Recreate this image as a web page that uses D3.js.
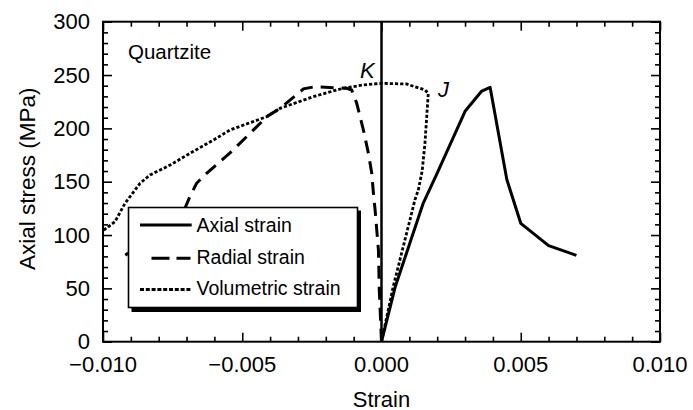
<!DOCTYPE html>
<html><head><meta charset="utf-8">
<script src="https://cdn.jsdelivr.net/npm/d3@7"></script>
<style>body{margin:0;background:#fff}svg{display:block}text{font-family:"Liberation Sans",Arial,Helvetica,sans-serif;fill:#000}</style>
</head><body><svg id="c" width="693" height="410"></svg>
<script>
// ---- data ----
const axialStrain = [0, 0.0005, 0.0015, 0.002, 0.003, 0.0036, 0.0039, 0.0045, 0.005, 0.006, 0.007];
const axialStress = [0, 52, 130, 158, 216, 235, 238.5, 152, 111, 90, 81];

const radialStrain = [0, -0.00008, -0.00011, -0.00023, -0.00029, -0.00035, -0.00047, -0.00065, -0.00089, -0.00107, -0.00125, -0.0024, -0.0028, -0.00364, -0.00412, -0.00454, -0.0049, -0.00544, -0.00628, -0.00664, -0.00688, -0.00706, -0.0092];
const radialStress = [0, 48.5, 86, 123.5, 139, 158, 176.6, 198.5, 223.5, 236, 237.6, 239, 237, 218.8, 211, 200, 190.7, 177, 157.9, 148.5, 136, 125, 81];

const volStrain = [0, 0.00042, 0.00066, 0.00102, 0.0012, 0.00132, 0.00146, 0.00156, 0.00168, 0.00156, 0.0009, 0, -0.00065, -0.00137, -0.00161, -0.00245, -0.00364, -0.00412, -0.00544, -0.00604, -0.00688, -0.00759, -0.00831, -0.00867, -0.00921, -0.00957, -0.01];
const volStress = [0, 51.6, 76.6, 114, 133, 142, 160, 186, 233, 236, 241.6, 242.2, 240.7, 237.6, 236, 229.7, 218.8, 211, 198.5, 189, 176.6, 165.6, 156.3, 148.5, 129.7, 112.5, 104];

const xTickValues = [-0.01, -0.005, 0, 0.005, 0.01];
const xTickLabels = ["\u22120.010", "\u22120.005", "0.000", "0.005", "0.010"];
const yTickValues = [0, 50, 100, 150, 200, 250, 300];
const yTickLabels = ["0", "50", "100", "150", "200", "250", "300"];
const seriesNames = ["Axial strain", "Radial strain", "Volumetric strain"];

// ---- layout ----
const svg = d3.select("#c");
const L = 103, R = 660, T = 21.7, B = 341.7;
const x = d3.scaleLinear().domain([-0.01, 0.01]).range([L, R]);
const y = d3.scaleLinear().domain([0, 300]).range([B, T]);

const zip = (a, b) => a.map((v, i) => [v, b[i]]);
const line = d3.line().x(d => x(d[0])).y(d => y(d[1]));

// ticks
const xMinor = d3.range(-10, 11).map(d => d / 1000).filter(v => !xTickValues.some(m => Math.abs(m - v) < 1e-9));
const yMinor = d3.range(0, 301, 10).filter(v => v % 50 !== 0);

function axisG(axis, tx, ty) {
  const g = svg.append("g").attr("transform", `translate(${tx},${ty})`).call(axis);
  g.select(".domain").remove();
  g.selectAll("text").remove();
  g.selectAll("line").attr("stroke", "#000").attr("stroke-width", 1.6);
  return g;
}
axisG(d3.axisBottom(x).tickValues(xTickValues).tickSize(-9), 0, B);
axisG(d3.axisBottom(x).tickValues(xMinor).tickSize(-5), 0, B);
axisG(d3.axisTop(x).tickValues(xTickValues).tickSize(-9), 0, T);
axisG(d3.axisTop(x).tickValues(xMinor).tickSize(-5), 0, T);
axisG(d3.axisLeft(y).tickValues(yTickValues).tickSize(-9), L, 0);
axisG(d3.axisLeft(y).tickValues(yMinor).tickSize(-5), L, 0);
axisG(d3.axisRight(y).tickValues(yTickValues).tickSize(-9), R, 0);
axisG(d3.axisRight(y).tickValues(yMinor).tickSize(-5), R, 0);

// frame
svg.append("rect").attr("x", L).attr("y", T).attr("width", R - L).attr("height", B - T)
  .attr("fill", "none").attr("stroke", "#000").attr("stroke-width", 2);

// tick labels
svg.append("g").selectAll("text").data(xTickValues).join("text")
  .attr("x", d => x(d)).attr("y", B + 30.5).attr("text-anchor", "middle")
  .attr("font-size", 22).text((d, i) => xTickLabels[i]);
svg.append("g").selectAll("text").data(yTickValues).join("text")
  .attr("x", L - 13).attr("y", d => y(d) + 7.5).attr("text-anchor", "end")
  .attr("font-size", 22).text((d, i) => yTickLabels[i]);

// axis titles
svg.append("text").attr("x", (L + R) / 2).attr("y", 406.5).attr("text-anchor", "middle")
  .attr("font-size", 22).text("Strain");
svg.append("text").attr("transform", `translate(35,${(T + B) / 2 - 3}) rotate(-90)`)
  .attr("text-anchor", "middle").attr("font-size", 22.5).text("Axial stress (MPa)");

// series
svg.append("path").datum(zip(radialStrain, radialStress)).attr("d", line)
  .attr("fill", "none").attr("stroke", "#000").attr("stroke-width", 3).attr("stroke-dasharray", "13,8");
svg.append("path").datum(zip(volStrain, volStress)).attr("d", line)
  .attr("fill", "none").attr("stroke", "#000").attr("stroke-width", 2.8).attr("stroke-dasharray", "3.2,2");
svg.append("path").datum(zip(axialStrain, axialStress)).attr("d", line)
  .attr("fill", "none").attr("stroke", "#000").attr("stroke-width", 3).attr("stroke-linejoin", "round");

// zero reference line
svg.append("line").attr("x1", x(0)).attr("x2", x(0)).attr("y1", T).attr("y2", B)
  .attr("stroke", "#000").attr("stroke-width", 2.5);

// annotations
svg.append("text").attr("x", 128).attr("y", 58.5).attr("font-size", 20.5).text("Quartzite");
svg.append("text").attr("x", 360).attr("y", 78).attr("font-size", 22).attr("font-style", "italic").text("K");
svg.append("text").attr("x", 438).attr("y", 96.5).attr("font-size", 22).attr("font-style", "italic").text("J");

// legend
const lg = svg.append("g");
lg.append("rect").attr("x", 131.5).attr("y", 210.5).attr("width", 229.5).attr("height", 101.5).attr("fill", "#000");
lg.append("rect").attr("x", 128.5).attr("y", 207.5).attr("width", 229).attr("height", 100)
  .attr("fill", "#fff").attr("stroke", "#000").attr("stroke-width", 1.6);
const rows = [
  { y: 225, ty: 231.7, x1: 140, x2: 191.7, dash: null, w: 3 },
  { y: 258.3, ty: 263.5, x1: 151.5, x2: 190.5, dash: "18,7", w: 3 },
  { y: 289.5, ty: 295, x1: 140, x2: 191.7, dash: "4,1.8", w: 2.8 }
];
rows.forEach((r, i) => {
  const l = lg.append("line").attr("x1", r.x1).attr("x2", r.x2).attr("y1", r.y).attr("y2", r.y)
    .attr("stroke", "#000").attr("stroke-width", r.w);
  if (r.dash) l.attr("stroke-dasharray", r.dash);
  lg.append("text").attr("x", 196.5).attr("y", r.ty).attr("font-size", 19.5).text(seriesNames[i]);
});
</script></body></html>
